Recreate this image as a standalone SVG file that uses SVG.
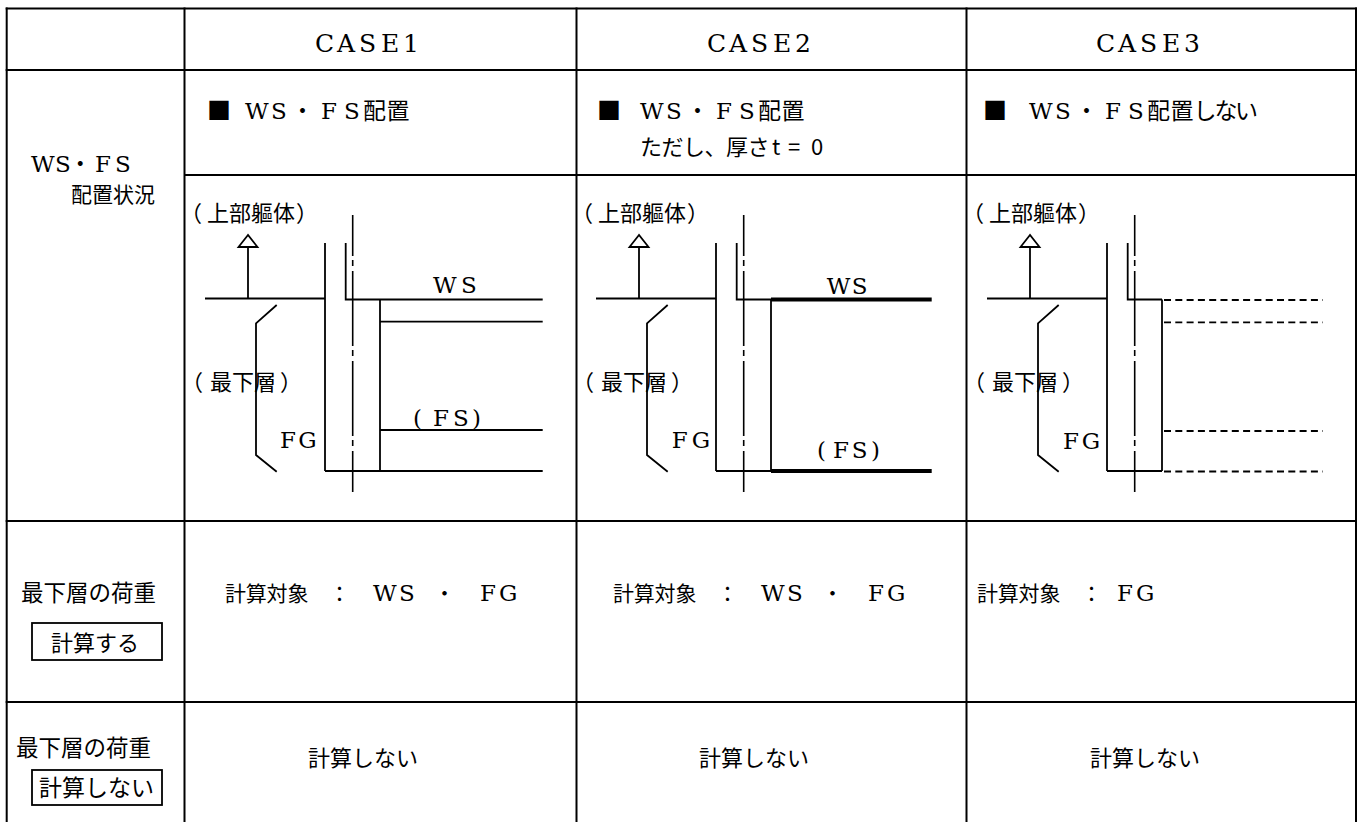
<svg xmlns="http://www.w3.org/2000/svg" xmlns:xlink="http://www.w3.org/1999/xlink" width="1361" height="822" viewBox="0 0 1361 822">
<style>
.tb{stroke:#000;stroke-width:2;fill:none}
.ln{stroke:#000;stroke-width:1.8;fill:none}
.tk{stroke:#000;stroke-width:3.8;fill:none}
.ds{stroke:#000;stroke-width:1.8;fill:none;stroke-dasharray:7 4.3}
.cl{stroke:#000;stroke-width:1.6;fill:none;stroke-dasharray:75 4 6 5;stroke-dashoffset:34}
.ah{stroke:#000;stroke-width:1.8;fill:#fff}
text{fill:#000}
.jp{font-family:"Noto Sans CJK JP","Noto Sans CJK SC",sans-serif}
.mx{font-family:"DejaVu Serif","Noto Sans CJK JP",serif}
</style>
<defs>
<g id="wall">
<line class="ln" x1="248" y1="298.5" x2="248" y2="246"/>
<polygon class="ah" points="248,235 238.5,247 257.5,247"/>
<line class="ln" x1="205" y1="298.5" x2="325" y2="298.5"/>
<line class="ln" x1="325" y1="243" x2="325" y2="471"/>
<polyline class="ln" points="345.7,243 345.7,299.5 380,299.5"/>
<line class="ln" x1="380" y1="299.5" x2="380" y2="471"/>
<line class="ln" x1="325" y1="471" x2="380" y2="471"/>
<line class="cl" x1="352.7" y1="215" x2="352.7" y2="492"/>
<polyline class="ln" points="276.7,305 256,323.3 256,455 276.7,471.7"/>
</g>
</defs>
<rect width="1361" height="822" fill="#fff"/>

<g id="table-grid">
<line class="tb" x1="5.7" y1="8.5" x2="1357" y2="8.5"/>
<line class="tb" x1="5.7" y1="70" x2="1357" y2="70"/>
<line class="tb" x1="184.5" y1="175" x2="1357" y2="175"/>
<line class="tb" x1="5.7" y1="521" x2="1357" y2="521"/>
<line class="tb" x1="5.7" y1="702" x2="1357" y2="702"/>
<line class="tb" x1="6.7" y1="7.5" x2="6.7" y2="822"/>
<line class="tb" x1="184.5" y1="7.5" x2="184.5" y2="822"/>
<line class="tb" x1="576.5" y1="7.5" x2="576.5" y2="822"/>
<line class="tb" x1="966.5" y1="7.5" x2="966.5" y2="822"/>
<line class="tb" x1="1356" y1="7.5" x2="1356" y2="822"/>
</g>

<g id="headers">
<text class="mx" font-size="25" x="315 337 359 381 403" y="52">CASE1</text>
<text class="mx" font-size="25" x="707 729 751 773 795" y="52">CASE2</text>
<text class="mx" font-size="25" x="1096 1118 1140 1162 1184" y="52">CASE3</text>
</g>

<g id="row-label-placement">
<text class="mx" font-size="23" x="31 55 68.8 95 115" y="172">WS・FS</text>
<text class="jp" font-size="21" x="71" y="202">配置状況</text>
</g>

<g id="case1-title">
<text y="118.5" font-size="23"><tspan class="jp" font-size="24" x="207">■</tspan><tspan class="mx" x="245 271 291 321 344 363 386.5">WS・FS配置</tspan></text>
</g>
<g id="case2-title">
<text y="118.5" font-size="23"><tspan class="jp" font-size="24" x="597">■</tspan><tspan class="mx" x="640 666 686 716 739 758 781.5">WS・FS配置</tspan></text>
<text class="jp" font-size="22" y="155" x="640 661.5 683 704.5 726 747.5 772 788 811">ただし、厚さt=0</text>
</g>
<g id="case3-title">
<text y="118.5" font-size="23"><tspan class="jp" font-size="24" x="983">■</tspan><tspan class="mx" x="1029 1055 1075 1105 1128 1147 1170.5">WS・FS配置</tspan><tspan class="jp" x="1193.5 1214.5 1235">しない</tspan></text>
</g>

<g id="case1-drawing">
<use xlink:href="#wall" href="#wall"/>
<line class="ln" x1="380" y1="299.5" x2="542.7" y2="299.5"/>
<line class="ln" x1="380" y1="321.7" x2="542.7" y2="321.7"/>
<line class="ln" x1="380" y1="430" x2="542.7" y2="430"/>
<line class="ln" x1="380" y1="471" x2="542.7" y2="471"/>
<text class="jp" font-size="22" x="180 207 229 251 273 296" y="221">（上部軀体）</text>
<text class="jp" font-size="22" x="181 210 232 254 280" y="390">（最下層）</text>
<text class="mx" font-size="23" x="433 461" y="293">WS</text>
<text class="mx" font-size="23" x="413 433 453 472" y="426">(FS)</text>
<text class="mx" font-size="23" x="280 298.3" y="448">FG</text>
</g>

<g id="case2-drawing" transform="translate(391,0)">
<use xlink:href="#wall" href="#wall"/>
<line class="tk" x1="380" y1="299.5" x2="540.7" y2="299.5"/>
<line class="tk" x1="380" y1="471" x2="540.7" y2="471"/>
<text class="jp" font-size="22" x="180 207 229 251 273 296" y="221">（上部軀体）</text>
<text class="jp" font-size="22" x="181 210 232 254 280" y="390">（最下層）</text>
<text class="mx" font-size="23" x="435.7 460.7" y="294">WS</text>
<text class="mx" font-size="23" x="426 442 460.7 480" y="458">(FS)</text>
<text class="mx" font-size="23" x="280.7 300.7" y="448">FG</text>
</g>

<g id="case3-drawing" transform="translate(782,0)">
<use xlink:href="#wall" href="#wall"/>
<line class="ds" x1="382" y1="300" x2="540.7" y2="300"/>
<line class="ds" x1="382" y1="322.3" x2="540.7" y2="322.3"/>
<line class="ds" x1="382" y1="431" x2="540.7" y2="431"/>
<line class="ds" x1="382" y1="471.5" x2="540.7" y2="471.5"/>
<text class="jp" font-size="22" x="180 207 229 251 273 296" y="221">（上部軀体）</text>
<text class="jp" font-size="22" x="181 210 232 254 280" y="390">（最下層）</text>
<text class="mx" font-size="23" x="281 299.7" y="449">FG</text>
</g>

<g id="row-label-calc">
<text class="jp" font-size="22.5" x="21" y="601">最下層の荷重</text>
<rect class="ln" x="32" y="623" width="130" height="37"/>
<text class="jp" font-size="22" x="51" y="651">計算する</text>
</g>
<g id="case1-calc">
<text y="601"><tspan class="jp" font-size="21" x="225 245.8 266.6 287.4">計算対象</tspan><tspan class="jp" font-size="21" x="329">：</tspan><tspan class="mx" font-size="23" x="373 399">WS</tspan><tspan class="jp" font-size="21" x="434">・</tspan><tspan class="mx" font-size="23" x="480 499">FG</tspan></text>
</g>
<g id="case2-calc">
<text y="601"><tspan class="jp" font-size="21" x="613 633.8 654.6 675.4">計算対象</tspan><tspan class="jp" font-size="21" x="717">：</tspan><tspan class="mx" font-size="23" x="761 787">WS</tspan><tspan class="jp" font-size="21" x="822">・</tspan><tspan class="mx" font-size="23" x="868 887">FG</tspan></text>
</g>
<g id="case3-calc">
<text y="601"><tspan class="jp" font-size="21" x="977 997.8 1018.6 1039.4">計算対象</tspan><tspan class="jp" font-size="21" x="1081">：</tspan><tspan class="mx" font-size="23" x="1117 1136">FG</tspan></text>
</g>

<g id="row-label-nocalc">
<text class="jp" font-size="22.5" x="16" y="756">最下層の荷重</text>
<rect class="ln" x="32" y="770" width="130" height="35"/>
<text class="jp" font-size="23" x="39" y="796">計算しない</text>
</g>
<g id="nocalc-cells">
<text class="jp" font-size="22" x="308" y="766">計算しない</text>
<text class="jp" font-size="22" x="699" y="766">計算しない</text>
<text class="jp" font-size="22" x="1090" y="766">計算しない</text>
</g>
</svg>
